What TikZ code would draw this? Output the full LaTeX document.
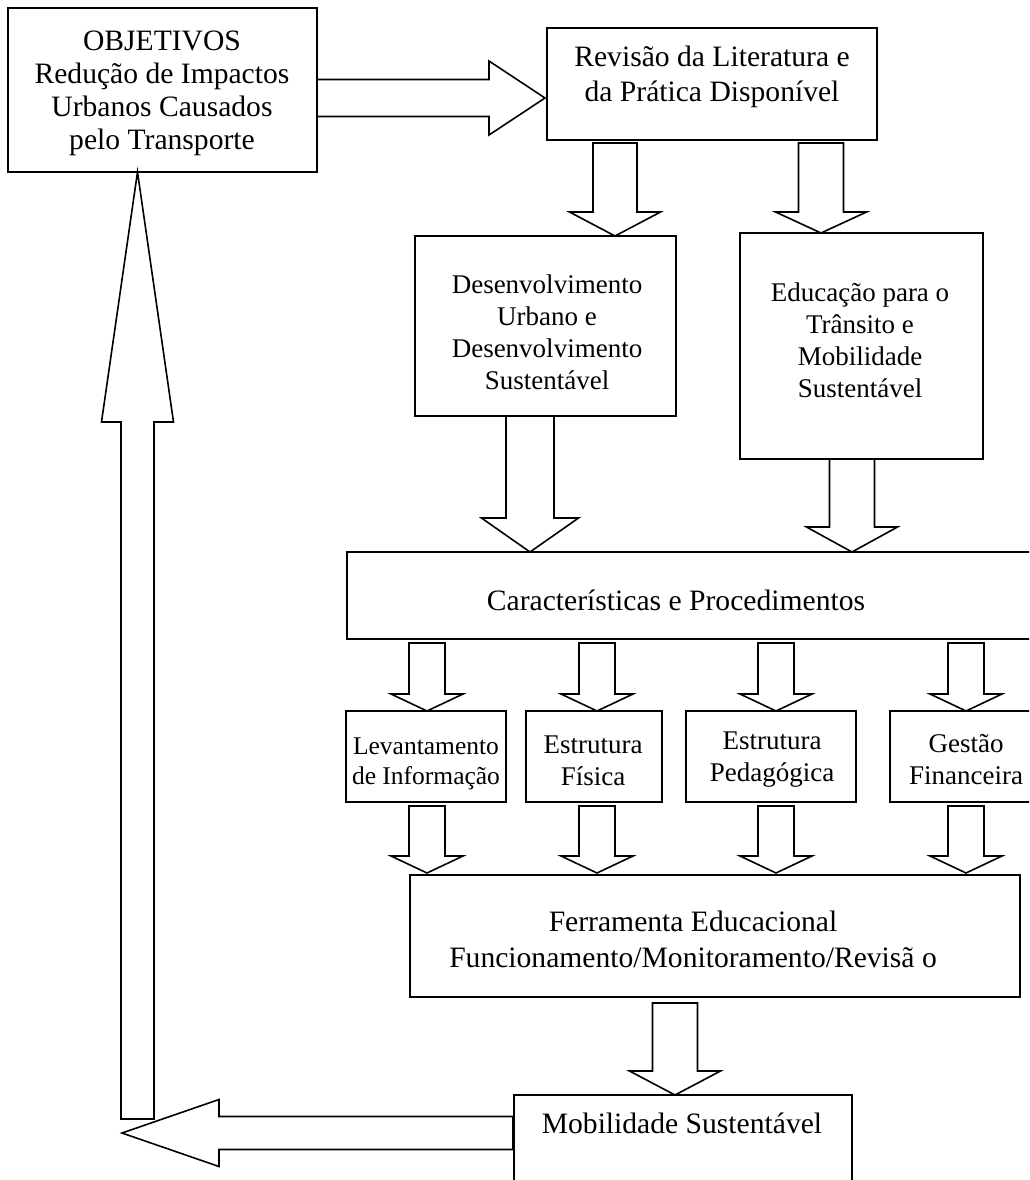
\documentclass[tikz,border=0pt]{standalone}
\usepackage{fontspec}
\setmainfont{Liberation Serif}
\usetikzlibrary{calc, positioning}

\tikzset{
  caixa/.style={draw, line width=1.6pt, inner sep=0pt, outer sep=0pt, anchor=north west},
  texto/.style={align=center, inner sep=0pt},
  seta/.style={draw, line width=1.6pt, fill=white, line join=miter},
  fgrande/.style={font=\fontsize{29.6pt}{33pt}\selectfont},
  fmedia/.style={font=\fontsize{27pt}{32pt}\selectfont},
  fpequena/.style={font=\fontsize{25.5pt}{30pt}\selectfont},
}

% seta larga: inicio, ponta, meia largura, meia cabeca, comprimento da cabeca
\newcommand{\setabloco}[5]{%
  \coordinate (sA) at (#1);
  \coordinate (sT) at (#2);
  \coordinate (sH) at ($(sT)!#5pt!(sA)$);
  \draw[seta] ($(sA)!#3pt!90:(sT)$) -- ($(sH)!#3pt!90:(sT)$)
    -- ($(sH)!#4pt!90:(sT)$) -- (sT) -- ($(sH)!#4pt!-90:(sT)$)
    -- ($(sH)!#3pt!-90:(sT)$) -- ($(sA)!#3pt!-90:(sT)$) -- cycle;}

\begin{document}
\begin{tikzpicture}[x=1pt, y=-1pt]
    \useasboundingbox (0,0) rectangle (1029,1180);
    \clip (0,0) rectangle (1029,1180);

    % Objetivos
    \node[caixa, minimum width=309pt, minimum height=164pt] (obj) at (8,8) {};
    \node[texto, fgrande] (objtxt) at (162,93) {OBJETIVOS\\Redução de Impactos\\Urbanos Causados\\pelo Transporte};

    % Revisao
    \node[caixa, minimum width=330pt, minimum height=112pt] (rev) at (547,28) {};
    \node[texto, font=\fontsize{29.6pt}{35pt}\selectfont] (revtxt) at (712,77) {Revisão da Literatura e\\da Prática Disponível};

    % Desenvolvimento e Educacao
    \node[caixa, minimum width=261pt, minimum height=180pt] (des) at (415,236) {};
    \node[texto, fmedia] (destxt) at (547,332) {Desenvolvimento\\Urbano e\\Desenvolvimento\\Sustentável};
    \node[caixa, minimum width=243pt, minimum height=226pt] (edu) at (740,233) {};
    \node[texto, fmedia] (edutxt) at (860,340) {Educação para o\\Trânsito e\\Mobilidade\\Sustentável};

    % Caracteristicas
    \node[caixa, minimum width=700pt, minimum height=87pt] (car) at (347,552) {};
    \node[texto, fgrande] (cartxt) at (676,600) {Características e Procedimentos};

    % Quatro caixas
    \node[caixa, minimum width=160pt, minimum height=91pt] (lev) at (346,711) {};
    \node[texto, fpequena] (levtxt) at (426,764) {Levantamento\\de Informação};
    \node[caixa, minimum width=136pt, minimum height=91pt] (fis) at (526,711) {};
    \node[texto, fmedia] (fistxt) at (593,761) {Estrutura\\Física};
    \node[caixa, minimum width=170pt, minimum height=91pt] (ped) at (686,711) {};
    \node[texto, fmedia] (pedtxt) at (772,760) {Estrutura\\Pedagógica};
    \node[caixa, minimum width=160pt, minimum height=91pt] (ges) at (890,711) {};
    \node[texto, fmedia] (gestxt) at (966,760) {Gestão\\Financeira};

    % Ferramenta
    \node[caixa, minimum width=610pt, minimum height=122pt] (fer) at (410,875) {};
    \node[texto, font=\fontsize{29.6pt}{36pt}\selectfont] (fertxt) at (693,939) {Ferramenta Educacional\\Funcionamento/Monitoramento/Revisã o};

    % Mobilidade
    \node[caixa, minimum width=338pt, minimum height=110pt] (mob) at (514,1095) {};
    \node[texto, fgrande] (mobtxt) at (682,1123) {Mobilidade Sustentável};

    % Setas
    \setabloco{[yshift=-8pt]obj.east}{[xshift=-2pt,yshift=-14pt]rev.west}{18.5}{37}{56}

    \coordinate (r1) at ([xshift=68pt,yshift=-3pt]rev.south west);
    \coordinate (r2) at ([xshift=-56pt,yshift=-3pt]rev.south east);
    \setabloco{r1}{r1 |- des.north}{22}{45.5}{24}
    \setabloco{r2}{r2 |- edu.north}{22.5}{45.5}{21}

    \coordinate (d1) at ([xshift=-15.5pt]des.south);
    \coordinate (e1) at ([xshift=-9.5pt]edu.south);
    \setabloco{d1}{d1 |- car.north}{24}{48.5}{34}
    \setabloco{e1}{e1 |- car.north}{22.5}{45.5}{25}

    \foreach \n/\dx in {lev/1, fis/3, ped/5, ges/-4} {
        \setabloco{$(\n.north |- car.south)+(\dx,4)$}{$(\n.north)+(\dx,0)$}{18}{36}{17}
        \setabloco{$(\n.south)+(\dx,4)$}{$(\n.south |- fer.north)+(\dx,-2)$}{18}{36}{17}
    }

    \coordinate (f1) at ($(fer.south)+(-40,6)$);
    \setabloco{f1}{f1 |- mob.north}{22.5}{45.5}{24}

    % Retorno aos objetivos
    \coordinate (volta) at (122,1133);
    \coordinate (base) at (137.5,1119);
    \setabloco{$(mob.north west)+(-1,38)$}{volta}{16.5}{33.5}{97}
    \setabloco{base}{base |- obj.south}{16.5}{36}{250}
\end{tikzpicture}
\end{document}
